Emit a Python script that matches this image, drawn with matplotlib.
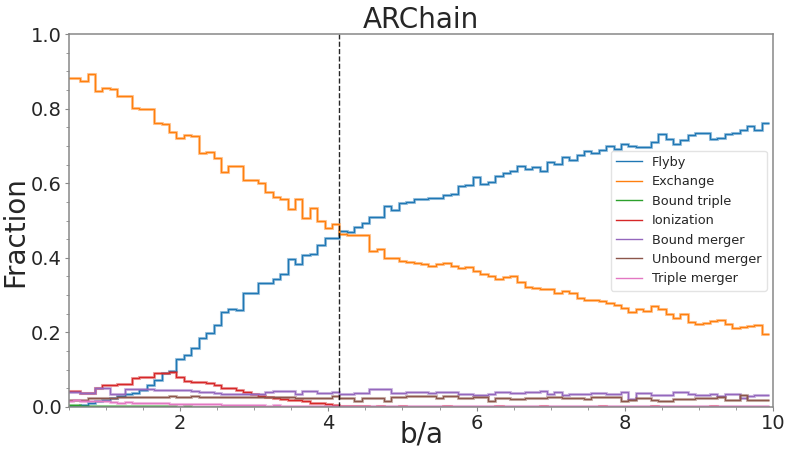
import matplotlib

matplotlib.use("Agg")

import matplotlib.pyplot as plt
import numpy as np
from matplotlib.ticker import AutoMinorLocator, MultipleLocator

# b/a bins of width 0.1 between 0.45 and 9.95
bin_lo = 0.45
bin_hi = 9.95
n_bins = 95
split_ba = 4.15

labels = ["Flyby", "Exchange", "Bound triple", "Ionization",
          "Bound merger", "Unbound merger", "Triple merger"]

flyby = [
    0.004, 0.004, 0.006, 0.012, 0.015, 0.020, 0.024, 0.030, 0.035, 0.038,
    0.045, 0.058, 0.072, 0.090, 0.096, 0.130, 0.140, 0.157, 0.186, 0.199,
    0.220, 0.256, 0.262, 0.261, 0.305, 0.305, 0.332, 0.332, 0.343, 0.358,
    0.398, 0.383, 0.408, 0.410, 0.434, 0.452, 0.452, 0.472, 0.468, 0.483,
    0.494, 0.510, 0.509, 0.540, 0.528, 0.548, 0.550, 0.559, 0.559, 0.560,
    0.561, 0.569, 0.571, 0.593, 0.595, 0.617, 0.598, 0.604, 0.620, 0.628,
    0.632, 0.647, 0.637, 0.643, 0.633, 0.657, 0.653, 0.670, 0.663, 0.676,
    0.686, 0.682, 0.689, 0.699, 0.692, 0.705, 0.701, 0.698, 0.698, 0.711,
    0.731, 0.718, 0.704, 0.716, 0.729, 0.734, 0.736, 0.720, 0.722, 0.731,
    0.735, 0.743, 0.753, 0.744, 0.762,
]
exchange = [
    0.881, 0.881, 0.874, 0.892, 0.848, 0.856, 0.854, 0.835, 0.835, 0.802,
    0.800, 0.800, 0.761, 0.758, 0.738, 0.722, 0.729, 0.727, 0.682, 0.685,
    0.669, 0.631, 0.647, 0.645, 0.608, 0.610, 0.602, 0.577, 0.564, 0.558,
    0.530, 0.557, 0.506, 0.533, 0.500, 0.481, 0.492, 0.465, 0.462, 0.462,
    0.462, 0.419, 0.424, 0.399, 0.399, 0.392, 0.390, 0.386, 0.383, 0.378,
    0.383, 0.385, 0.378, 0.372, 0.375, 0.365, 0.356, 0.352, 0.342, 0.348,
    0.352, 0.335, 0.322, 0.318, 0.317, 0.316, 0.305, 0.312, 0.305, 0.292,
    0.288, 0.287, 0.285, 0.278, 0.274, 0.266, 0.255, 0.262, 0.258, 0.270,
    0.262, 0.250, 0.240, 0.250, 0.227, 0.223, 0.226, 0.231, 0.233, 0.223,
    0.212, 0.214, 0.217, 0.221, 0.195,
]
bound_triple = [
    0.005, 0.005, 0.004, 0.004, 0.004, 0.003, 0.003, 0.003, 0.003, 0.002,
    0.002, 0.002, 0.002, 0.002, 0.002, 0.001, 0.002, 0.001, 0.001, 0.001,
    0.001, 0.001, 0.001, 0.001, 0.001, 0.001, 0.000, 0.001, 0.001, 0.000,
    0.001, 0.000, 0.001, 0.000, 0.000, 0.001, 0.000, 0.000, 0.001, 0.000,
    0.000, 0.000, 0.001, 0.000, 0.000, 0.000, 0.000, 0.001, 0.000, 0.000,
    0.000, 0.000, 0.000, 0.000, 0.001, 0.000, 0.000, 0.000, 0.000, 0.000,
    0.000, 0.000, 0.000, 0.000, 0.000, 0.000, 0.000, 0.001, 0.000, 0.000,
    0.000, 0.000, 0.000, 0.000, 0.000, 0.000, 0.000, 0.000, 0.000, 0.000,
    0.000, 0.000, 0.000, 0.000, 0.000, 0.000, 0.000, 0.000, 0.000, 0.000,
    0.000, 0.000, 0.000, 0.000, 0.000,
]
ionization = [
    0.043, 0.043, 0.038, 0.038, 0.050, 0.059, 0.060, 0.063, 0.063, 0.079,
    0.080, 0.081, 0.090, 0.090, 0.094, 0.080, 0.070, 0.066, 0.066, 0.064,
    0.060, 0.052, 0.050, 0.045, 0.040, 0.036, 0.030, 0.028, 0.025, 0.022,
    0.020, 0.018, 0.016, 0.012, 0.010, 0.008, 0.006, 0.004, 0.002, 0.002,
    0.002, 0.001, 0.002, 0.001, 0.001, 0.002, 0.001, 0.001, 0.000, 0.001,
    0.001, 0.002, 0.001, 0.001, 0.000, 0.001, 0.001, 0.001, 0.002, 0.001,
    0.001, 0.000, 0.001, 0.001, 0.002, 0.001, 0.001, 0.001, 0.000, 0.001,
    0.001, 0.001, 0.002, 0.001, 0.001, 0.000, 0.001, 0.001, 0.001, 0.002,
    0.001, 0.001, 0.000, 0.001, 0.001, 0.001, 0.001, 0.002, 0.001, 0.001,
    0.000, 0.001, 0.001, 0.001, 0.001,
]
bound_merger = [
    0.041, 0.041, 0.038, 0.038, 0.052, 0.052, 0.036, 0.036, 0.048, 0.048,
    0.048, 0.048, 0.045, 0.045, 0.045, 0.046, 0.046, 0.042, 0.040, 0.041,
    0.038, 0.036, 0.034, 0.036, 0.035, 0.036, 0.036, 0.040, 0.044, 0.044,
    0.044, 0.036, 0.044, 0.044, 0.038, 0.038, 0.040, 0.035, 0.035, 0.037,
    0.037, 0.047, 0.047, 0.047, 0.038, 0.038, 0.039, 0.041, 0.041, 0.038,
    0.040, 0.040, 0.040, 0.035, 0.035, 0.033, 0.033, 0.035, 0.040, 0.040,
    0.038, 0.038, 0.040, 0.040, 0.043, 0.035, 0.040, 0.033, 0.035, 0.035,
    0.035, 0.038, 0.038, 0.035, 0.035, 0.039, 0.022, 0.037, 0.037, 0.033,
    0.033, 0.033, 0.039, 0.039, 0.035, 0.031, 0.031, 0.034, 0.029, 0.034,
    0.034, 0.023, 0.029, 0.031, 0.031,
]
unbound_merger = [
    0.019, 0.019, 0.019, 0.023, 0.023, 0.023, 0.023, 0.027, 0.027, 0.026,
    0.027, 0.028, 0.027, 0.028, 0.029, 0.028, 0.028, 0.029, 0.028, 0.027,
    0.028, 0.027, 0.026, 0.027, 0.027, 0.026, 0.027, 0.028, 0.027, 0.026,
    0.027, 0.023, 0.024, 0.023, 0.023, 0.024, 0.030, 0.025, 0.025, 0.017,
    0.025, 0.025, 0.025, 0.017, 0.028, 0.028, 0.030, 0.030, 0.029, 0.030,
    0.023, 0.029, 0.029, 0.023, 0.023, 0.028, 0.028, 0.017, 0.025, 0.025,
    0.021, 0.021, 0.025, 0.025, 0.023, 0.028, 0.028, 0.023, 0.023, 0.023,
    0.021, 0.028, 0.028, 0.028, 0.028, 0.016, 0.018, 0.023, 0.023, 0.019,
    0.017, 0.017, 0.021, 0.021, 0.021, 0.023, 0.023, 0.025, 0.028, 0.019,
    0.019, 0.032, 0.019, 0.018, 0.018,
]
triple_merger = [
    0.017, 0.018, 0.016, 0.017, 0.016, 0.015, 0.013, 0.012, 0.013, 0.012,
    0.011, 0.011, 0.010, 0.010, 0.009, 0.009, 0.008, 0.008, 0.007, 0.007,
    0.007, 0.006, 0.006, 0.005, 0.006, 0.005, 0.005, 0.004, 0.005, 0.004,
    0.004, 0.004, 0.003, 0.004, 0.003, 0.003, 0.003, 0.004, 0.003, 0.002,
    0.003, 0.003, 0.002, 0.003, 0.003, 0.002, 0.003, 0.002, 0.003, 0.003,
    0.002, 0.002, 0.003, 0.002, 0.002, 0.003, 0.002, 0.002, 0.003, 0.002,
    0.002, 0.003, 0.002, 0.002, 0.002, 0.003, 0.002, 0.002, 0.002, 0.003,
    0.002, 0.002, 0.002, 0.002, 0.003, 0.002, 0.002, 0.002, 0.002, 0.003,
    0.002, 0.002, 0.002, 0.002, 0.002, 0.003, 0.002, 0.002, 0.002, 0.002,
    0.002, 0.003, 0.002, 0.002, 0.002,
]

series = [flyby, exchange, bound_triple, ionization,
          bound_merger, unbound_merger, triple_merger]
colors = ["C0", "C1", "C2", "C3", "C4", "C5", "C6"]

plt.rcParams["font.family"] = "DejaVu Sans"
plt.rcParams["text.color"] = "#262626"
plt.rcParams["axes.labelcolor"] = "#262626"
plt.rcParams["xtick.color"] = "#262626"
plt.rcParams["ytick.color"] = "#262626"

edges = np.linspace(bin_lo, bin_hi, n_bins + 1)

fig = plt.figure(figsize=(7.87, 4.55), dpi=100)
ax = fig.add_axes([0.0877, 0.1055, 0.8945, 0.8195])

for values, color, label in zip(series, colors, labels):
    # soft wide line underneath, crisp thin line on top
    ax.stairs(values, edges, baseline=None, color=color, lw=2.2, alpha=0.4)
    ax.stairs(values, edges, baseline=None, color=color, lw=1.0, label=label)

ax.axvline(split_ba, color="black", lw=1.0, ls="--", alpha=0.85)

ax.set_xlim(0.5, 10)
ax.set_ylim(0, 1.0)
ax.xaxis.set_major_locator(MultipleLocator(2))
ax.yaxis.set_major_locator(MultipleLocator(0.2))
ax.xaxis.set_minor_locator(AutoMinorLocator(4))
ax.yaxis.set_minor_locator(AutoMinorLocator(4))
ax.tick_params(which="major", labelsize=14, length=3, pad=2, color="#888888")
ax.tick_params(which="minor", length=2, color="#888888")
for spine in ax.spines.values():
    spine.set_color("#888888")
    spine.set_linewidth(1.1)

ax.set_xlabel("b/a", fontsize=20)
ax.set_ylabel("Fraction", fontsize=20)
ax.xaxis.set_label_coords(0.5, -0.035)
ax.yaxis.set_label_coords(-0.056, 0.47)
ax.set_title("ARChain", fontsize=20, pad=4)

leg = ax.legend(loc="center right", fontsize=9.3, frameon=True,
                borderaxespad=0.5, handlelength=2.0)
leg.get_frame().set_edgecolor("#dddddd")

fig.savefig("out.png", dpi=100)
plt.close(fig)
